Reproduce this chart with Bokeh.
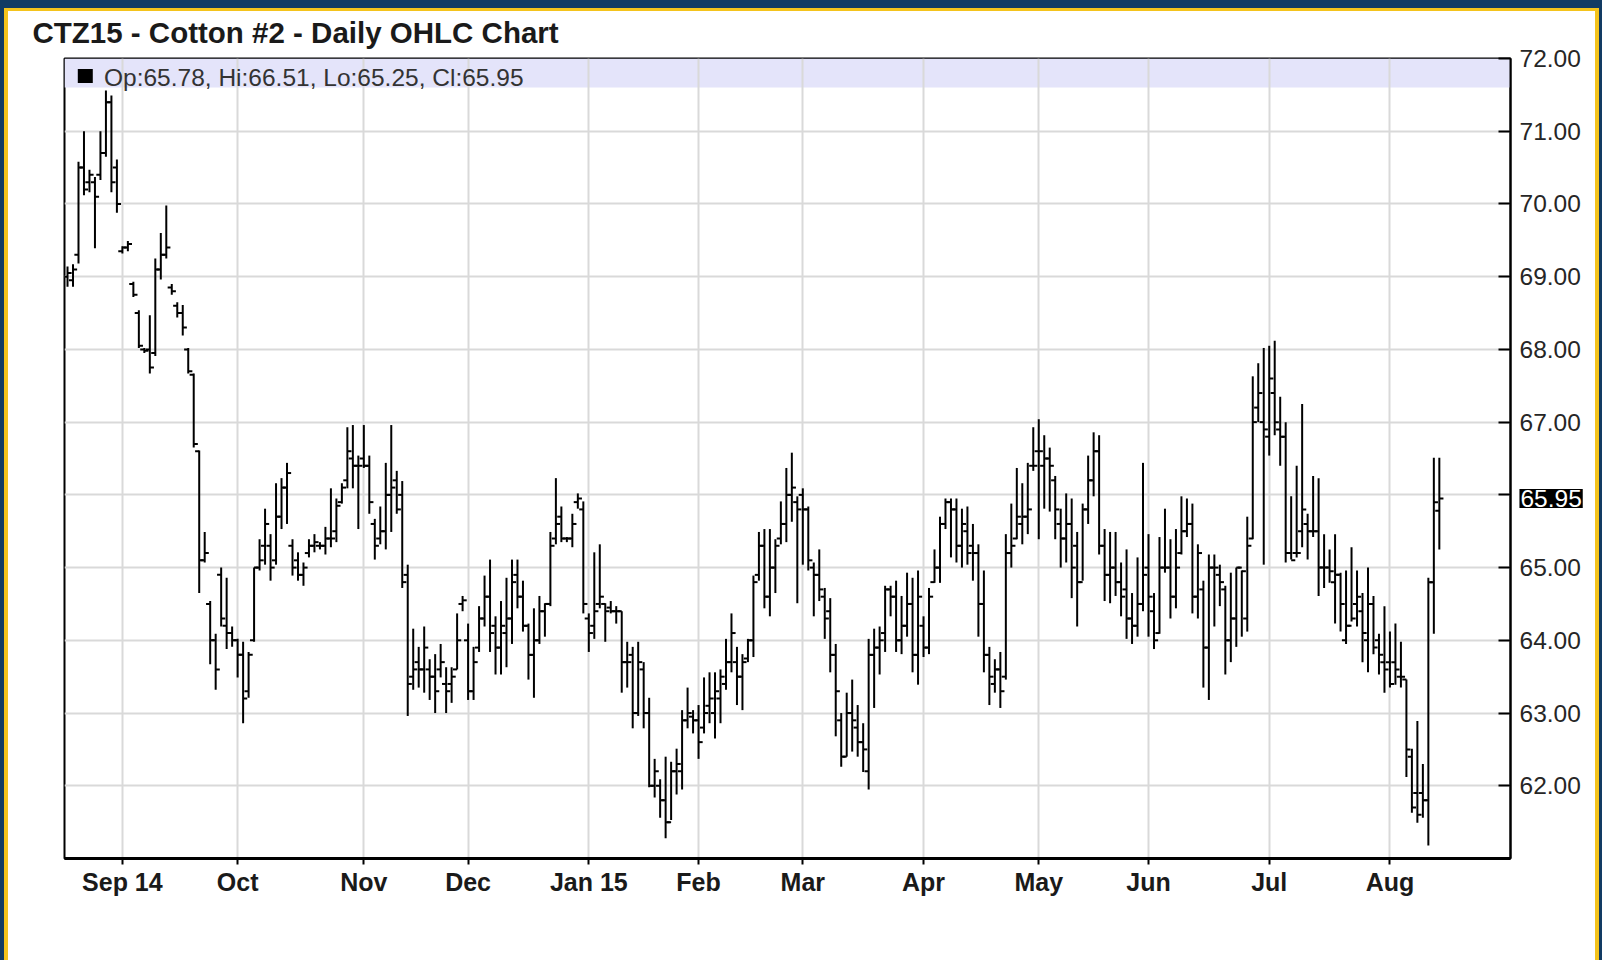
from bokeh.plotting import figure
from bokeh.models import (FixedTicker, Range1d, Label, BoxAnnotation,
                          InlineStyleSheet, NumeralTickFormatter)
from bokeh.embed import file_html
from bokeh.resources import INLINE

# ---------------- data (daily OHLC, CTZ15 cotton, Aug 2014 - Aug 2015) ----------------
aug14_open  = [69.0, 68.95, 69.3, 70.5, 70.3, 70.3, 70.4, 70.7, 71.4, 70.5]
aug14_high  = [69.14, 69.17, 70.58, 71.0, 70.47, 70.37, 71.0, 71.56, 71.49, 70.61]
aug14_low   = [68.86, 68.86, 69.18, 70.12, 70.16, 69.39, 70.33, 70.65, 70.16, 69.88]
aug14_close = [69.05, 69.1, 70.5, 70.2, 70.4, 70.1, 70.7, 71.4, 70.3, 70.0]

sep14_open  = [69.35, 69.4, 68.9, 68.5, 68.0, 68.0, 67.95, 69.1, 69.3, 68.85, 68.6, 68.5, 68.0, 67.65, 66.6, 65.1, 64.5, 64.0, 64.9, 64.2, 64.1]
sep14_high  = [69.42, 69.49, 68.93, 68.54, 68.02, 68.47, 69.25, 69.6, 69.98, 68.9, 68.65, 68.61, 68.02, 67.67, 66.61, 65.49, 64.54, 64.09, 65.0, 64.86, 64.19]
sep14_low   = [69.32, 69.35, 68.72, 68.02, 67.95, 67.67, 67.91, 68.96, 69.25, 68.75, 68.44, 68.19, 67.67, 66.65, 64.65, 65.07, 63.67, 63.32, 64.19, 63.88, 63.91]
sep14_close = [69.4, 69.45, 68.75, 68.05, 67.98, 67.75, 69.1, 69.3, 69.4, 68.8, 68.5, 68.3, 67.7, 66.7, 65.1, 65.2, 64.0, 63.6, 64.3, 64.1, 64.0]

oct14_open  = [64.0, 63.8, 63.3, 64.0, 65.0, 65.3, 65.3, 65.1, 65.7, 66.1, 65.3, 65.1, 64.9, 65.2, 65.3, 65.3, 65.3, 65.4, 65.5, 65.9, 66.2, 66.5, 66.4]
oct14_high  = [64.02, 63.98, 63.84, 65.0, 65.39, 65.81, 65.46, 66.16, 66.23, 66.44, 65.39, 65.21, 65.07, 65.39, 65.46, 65.35, 65.56, 66.09, 65.95, 66.16, 66.93, 66.96, 66.54]
oct14_low   = [63.49, 62.86, 63.21, 63.98, 64.96, 65.04, 64.82, 65.04, 65.53, 65.6, 64.89, 64.82, 64.75, 65.14, 65.21, 65.25, 65.18, 65.28, 65.35, 65.88, 66.09, 66.09, 65.53]
oct14_close = [63.8, 63.2, 63.8, 65.0, 65.1, 65.6, 65.0, 65.7, 66.1, 66.3, 65.0, 64.9, 65.0, 65.3, 65.35, 65.3, 65.4, 65.4, 65.85, 66.1, 66.6, 66.4, 66.4]

nov14_open  = [66.5, 66.4, 65.6, 65.4, 65.5, 66.0, 66.2, 66.0, 64.9, 63.5, 63.7, 63.6, 63.6, 63.5, 63.6, 63.4, 63.4, 63.6, 64.5]
nov14_high  = [66.96, 66.54, 65.67, 65.84, 66.44, 66.96, 66.33, 66.19, 65.04, 64.16, 63.91, 64.19, 63.74, 63.81, 63.95, 63.63, 63.63, 64.37, 64.61]
nov14_low   = [66.37, 65.74, 65.11, 65.32, 65.25, 65.49, 65.74, 64.72, 62.96, 63.32, 63.35, 63.28, 63.18, 63.0, 63.49, 63.0, 63.14, 63.6, 64.4]
nov14_close = [66.4, 65.9, 65.3, 65.5, 66.0, 66.1, 65.8, 64.8, 63.4, 63.6, 63.6, 63.9, 63.5, 63.3, 63.7, 63.3, 63.5, 64.0, 64.55]

dec14_open  = [64.0, 63.3, 63.9, 64.3, 64.6, 64.2, 63.9, 64.1, 64.3, 64.9, 64.6, 64.2, 63.8, 64.0, 64.4, 64.5, 65.4, 65.7, 65.4, 65.4, 65.9, 65.8]
dec14_high  = [64.23, 63.91, 64.47, 64.89, 65.11, 64.33, 64.54, 64.86, 65.11, 65.11, 64.82, 64.23, 64.44, 64.61, 64.51, 65.49, 66.23, 65.84, 65.42, 65.74, 66.02, 65.91]
dec14_low   = [63.18, 63.18, 63.84, 64.19, 63.84, 63.53, 63.53, 63.63, 63.95, 64.44, 64.12, 63.46, 63.21, 63.95, 64.05, 64.47, 65.32, 65.35, 65.35, 65.28, 65.81, 64.37]
dec14_close = [63.3, 63.7, 64.3, 64.6, 64.1, 63.9, 64.2, 64.3, 64.8, 64.6, 64.2, 63.8, 64.0, 64.4, 64.5, 65.3, 65.6, 65.4, 65.4, 65.6, 65.95, 64.5]

jan15_open  = [64.3, 64.2, 64.5, 64.5, 64.45, 64.4, 64.4, 63.7, 63.8, 63.0, 63.6, 63.0, 62.0, 62.0, 61.8, 61.5, 62.2, 62.2, 62.9, 62.95]
jan15_high  = [64.37, 65.21, 65.32, 64.51, 64.54, 64.47, 64.4, 63.98, 63.91, 63.98, 63.7, 63.21, 62.37, 62.09, 62.4, 62.33, 62.51, 63.04, 63.35, 63.04]
jan15_low   = [63.84, 64.02, 64.44, 63.98, 64.37, 64.23, 63.28, 63.35, 62.79, 62.96, 62.79, 61.98, 61.84, 61.56, 61.28, 61.53, 61.88, 61.95, 62.79, 62.72]
jan15_close = [64.1, 64.4, 64.6, 64.4, 64.4, 64.4, 63.7, 63.7, 63.0, 63.7, 63.0, 62.0, 62.2, 61.8, 61.5, 62.2, 62.3, 62.9, 63.0, 62.9]

feb15_open  = [62.9, 62.8, 63.1, 63.0, 63.2, 63.4, 63.7, 63.7, 63.5, 63.75, 64.0, 64.9, 65.3, 64.6, 65.0, 65.4, 65.6, 66.0, 65.9]
feb15_high  = [63.11, 63.49, 63.56, 63.56, 63.6, 64.02, 64.37, 63.91, 63.81, 64.02, 64.89, 65.49, 65.53, 65.53, 65.39, 65.91, 66.37, 66.58, 65.98]
feb15_low   = [62.37, 62.72, 62.86, 62.65, 62.86, 63.32, 63.56, 63.11, 63.04, 63.7, 63.77, 64.82, 64.44, 64.33, 64.65, 65.32, 65.35, 65.63, 64.51]
feb15_close = [62.6, 63.0, 63.2, 63.3, 63.5, 63.7, 64.1, 63.5, 63.7, 64.0, 64.8, 65.3, 64.6, 65.0, 65.3, 65.6, 66.0, 66.1, 65.8]

mar15_open  = [66.0, 65.8, 65.0, 64.9, 64.6, 64.4, 63.8, 62.9, 62.4, 63.0, 62.8, 62.6, 62.2, 63.8, 63.9, 64.1, 64.7, 64.6, 64.0, 64.2, 64.5, 63.8]
mar15_high  = [66.09, 65.84, 65.07, 65.25, 64.72, 64.58, 63.95, 63.0, 63.28, 63.46, 63.11, 62.86, 64.02, 64.16, 64.19, 64.75, 64.75, 64.82, 64.61, 64.93, 64.86, 64.96]
mar15_low   = [65.04, 64.96, 64.33, 64.54, 64.02, 63.56, 62.68, 62.26, 62.4, 62.47, 62.4, 62.19, 61.95, 63.07, 63.53, 63.84, 64.33, 63.84, 63.81, 64.05, 63.56, 63.39]
mar15_close = [65.8, 65.1, 64.9, 64.7, 64.3, 63.8, 63.3, 62.4, 63.0, 62.9, 62.6, 62.5, 63.8, 63.9, 64.0, 64.7, 64.6, 64.0, 64.2, 64.5, 63.8, 64.6]

apr15_open  = [64.2, 63.9, 64.8, 65.0, 65.6, 65.9, 65.8, 65.3, 65.5, 65.3, 65.2, 64.5, 63.8, 63.4, 63.6, 63.5, 65.2, 65.4, 65.6, 65.7, 66.4]
apr15_high  = [64.33, 64.72, 65.25, 65.7, 65.95, 65.95, 65.95, 65.81, 65.84, 65.6, 65.32, 64.96, 63.91, 63.74, 63.84, 65.46, 65.88, 66.37, 66.16, 66.44, 66.93]
apr15_low   = [63.77, 63.81, 64.79, 64.79, 65.53, 65.14, 65.07, 65.0, 65.04, 64.82, 64.05, 63.56, 63.11, 63.28, 63.07, 63.46, 65.0, 65.39, 65.32, 65.46, 66.33]
apr15_close = [63.9, 64.6, 65.0, 65.6, 65.9, 65.8, 65.3, 65.6, 65.2, 65.2, 64.5, 63.8, 63.5, 63.6, 63.3, 65.2, 65.3, 65.7, 65.7, 65.8, 66.4]

may15_open  = [66.6, 66.4, 66.5, 66.2, 65.6, 65.4, 65.6, 65.3, 64.8, 65.8, 66.2, 66.6, 65.3, 64.9, 65.0, 64.8, 64.7, 64.3, 64.2, 64.5]
may15_high  = [67.04, 66.82, 66.65, 66.26, 65.81, 66.02, 65.95, 65.49, 65.88, 66.54, 66.86, 66.82, 65.53, 65.49, 65.49, 65.07, 65.25, 64.65, 65.14, 66.44]
may15_low   = [65.39, 65.81, 65.77, 65.39, 65.0, 65.07, 64.58, 64.19, 64.82, 65.6, 65.98, 65.18, 64.54, 64.51, 64.61, 64.33, 64.02, 63.95, 64.05, 64.4]
may15_close = [66.6, 66.5, 66.4, 65.8, 65.4, 65.6, 65.0, 64.8, 65.8, 66.2, 66.6, 65.3, 64.9, 65.0, 64.8, 64.6, 64.3, 64.2, 64.5, 64.9]

jun15_open  = [65.0, 64.4, 64.1, 65.0, 65.0, 64.6, 65.2, 65.5, 65.6, 64.6, 64.7, 63.9, 65.0, 64.9, 64.7, 64.0, 64.3, 65.0, 64.3, 65.4, 67.2, 67.0]
jun15_high  = [65.46, 64.65, 65.42, 65.81, 65.39, 65.53, 65.98, 65.95, 65.88, 65.32, 64.82, 65.18, 65.18, 65.04, 64.75, 64.93, 65.0, 64.96, 65.7, 67.63, 67.81, 68.02]
jun15_low   = [64.05, 63.88, 64.09, 64.93, 64.3, 64.44, 65.18, 65.42, 64.37, 64.3, 63.35, 63.18, 64.19, 64.47, 63.53, 63.7, 63.91, 64.05, 64.12, 65.39, 67.0, 65.04]
jun15_close = [64.6, 64.0, 65.0, 65.0, 64.6, 65.0, 65.5, 65.6, 64.6, 65.2, 63.9, 65.0, 65.0, 64.8, 64.0, 64.3, 65.0, 64.95, 65.3, 67.0, 67.4, 66.9]

jul15_open  = [66.8, 67.4, 66.9, 66.8, 65.2, 65.2, 65.5, 65.6, 65.5, 65.5, 65.0, 65.0, 64.8, 64.9, 64.0, 64.2, 64.5, 64.4, 64.0, 64.5, 64.0, 63.7]
jul15_high  = [68.05, 68.12, 67.35, 67.0, 65.98, 66.4, 67.25, 65.74, 66.26, 66.23, 65.46, 65.25, 65.46, 64.93, 64.96, 65.28, 64.96, 64.65, 65.0, 64.61, 64.09, 64.47]
jul15_low   = [66.54, 66.82, 66.4, 65.07, 65.11, 65.14, 65.28, 65.11, 65.42, 64.61, 64.72, 64.79, 64.23, 64.12, 63.95, 64.26, 64.19, 63.7, 63.56, 63.81, 63.53, 63.28]
jul15_close = [67.6, 67.0, 66.8, 65.2, 65.1, 65.2, 65.8, 65.5, 65.5, 65.0, 65.0, 64.95, 64.9, 64.5, 64.2, 64.3, 64.6, 64.1, 64.5, 63.9, 63.8, 63.6]

aug15_open  = [63.7, 63.7, 63.5, 63.46, 62.4, 61.9, 61.9, 61.8, 64.8, 65.78]
aug15_high  = [64.12, 64.23, 63.98, 63.46, 62.51, 62.89, 62.3, 64.86, 66.51, 66.51]
aug15_low   = [63.35, 63.39, 63.35, 62.12, 61.63, 61.49, 61.56, 61.18, 64.09, 65.25]
aug15_close = [63.4, 63.6, 63.5, 62.5, 61.7, 61.6, 61.8, 64.8, 65.9, 65.95]

# x-axis: month labels at the first trading day of each month (trading-day index)
month_tick_idx = [10, 31, 54, 73, 95, 115, 134, 156, 177, 197, 219, 241]
month_labels = ["Sep 14", "Oct", "Nov", "Dec", "Jan 15", "Feb", "Mar", "Apr",
                "May", "Jun", "Jul", "Aug"]
price_ticks = [62, 63, 64, 65, 66, 67, 68, 69, 70, 71, 72]

months = ["aug14", "sep14", "oct14", "nov14", "dec14", "jan15", "feb15",
          "mar15", "apr15", "may15", "jun15", "jul15", "aug15"]
g = globals()
bar_open, bar_high, bar_low, bar_close = [], [], [], []
for m in months:
    bar_open += g[m + "_open"]
    bar_high += g[m + "_high"]
    bar_low += g[m + "_low"]
    bar_close += g[m + "_close"]
n = len(bar_close)
idx = list(range(n))

# ---------------- figure ----------------
FONT = "Liberation Sans"
NAVY = "#123b63"
GOLD = "#f4c31c"
p = figure(width=1602, height=960, output_backend="svg", toolbar_location=None,
           title="CTZ15 - Cotton #2 - Daily OHLC Chart",
           x_range=Range1d(-0.55, 262.97), y_range=Range1d(61, 72),
           y_axis_location="right",
           min_border_left=64, min_border_right=92, min_border_top=58,
           min_border_bottom=102)
p.border_fill_color = None
p.background_fill_color = "white"
p.outline_line_color = "black"
p.outline_line_width = 2
p.stylesheets = [InlineStyleSheet(css=(
    ":host { background: white; box-shadow:"
    " inset 0 8px 0 0 %s, inset 4px 0 0 0 %s, inset -3px 0 0 0 %s,"
    " inset 0 11px 0 0 %s, inset 8px 0 0 0 %s, inset -7px 0 0 0 %s; }"
    % (NAVY, NAVY, NAVY, GOLD, GOLD, GOLD)))]

# title
p.title.align = "left"
p.title.offset = -32
p.title.standoff = 19
p.title.text_font = FONT
p.title.text_font_size = "29.5px"
p.title.text_font_style = "bold"
p.title.text_color = "#1a1a1a"

# grids
p.xgrid.ticker = FixedTicker(ticks=month_tick_idx)
p.ygrid.ticker = FixedTicker(ticks=price_ticks)
for gr in (p.xgrid, p.ygrid):
    gr.grid_line_color = "#d9d9d9"
    gr.grid_line_width = 2

# header band
p.add_layout(BoxAnnotation(bottom=71.6, top=72, fill_color="#e4e4fa", fill_alpha=1,
                           line_color=None, level="image"))

# x axis
xa = p.xaxis[0]
xa.ticker = FixedTicker(ticks=month_tick_idx)
xa.major_label_overrides = {t: s for t, s in zip(month_tick_idx, month_labels)}
xa.axis_line_width = 3
xa.major_tick_in = 0
xa.major_tick_out = 6
xa.major_tick_line_width = 2
xa.minor_tick_line_color = None
xa.major_label_standoff = 3
xa.major_label_text_font = FONT
xa.major_label_text_font_style = "bold"
xa.major_label_text_font_size = "25px"
xa.major_label_text_color = "#1a1a1a"

# y axis (right)
ya = p.yaxis[0]
ya.ticker = FixedTicker(ticks=price_ticks)
ya.formatter = NumeralTickFormatter(format="0.00")
ya.major_label_overrides = {66: ""}
ya.axis_line_width = 2
ya.major_tick_in = 12
ya.major_tick_out = 0
ya.major_tick_line_width = 2
ya.minor_tick_line_color = None
ya.major_label_standoff = 9
ya.major_label_text_font = FONT
ya.major_label_text_font_size = "24.5px"
ya.major_label_text_color = "#262626"

# OHLC bars
tick_half = 0.75
p.segment(x0=idx, y0=bar_low, x1=idx, y1=bar_high, line_color="black", line_width=2)
p.segment(x0=[i - tick_half for i in idx], y0=bar_open, x1=idx, y1=bar_open,
          line_color="black", line_width=2)
p.segment(x0=idx, y0=bar_close, x1=[i + tick_half for i in idx], y1=bar_close,
          line_color="black", line_width=2)

# legend square + OHLC readout of the last bar
p.rect(x=[3.24], y=[71.758], width=15, height=14, width_units="screen",
       height_units="screen", fill_color="black", line_color=None)
readout = "Op:%.2f, Hi:%.2f, Lo:%.2f, Cl:%.2f" % (bar_open[-1], bar_high[-1],
                                                 bar_low[-1], bar_close[-1])
p.add_layout(Label(x=6.65, y=71.745, text=readout, text_font=FONT,
                   text_font_size="24.5px", text_color="#333333",
                   text_baseline="middle"))

# last price badge on the price axis (placed in a side panel so it is not clipped)
p.add_layout(Label(x=264.6, y=bar_close[-1], text="%.2f" % bar_close[-1],
                   text_font=FONT, text_font_size="24.5px", text_color="white",
                   background_fill_color="black", text_baseline="middle",
                   padding=1), "below")

open("out.html", "w").write(file_html(p, INLINE))
